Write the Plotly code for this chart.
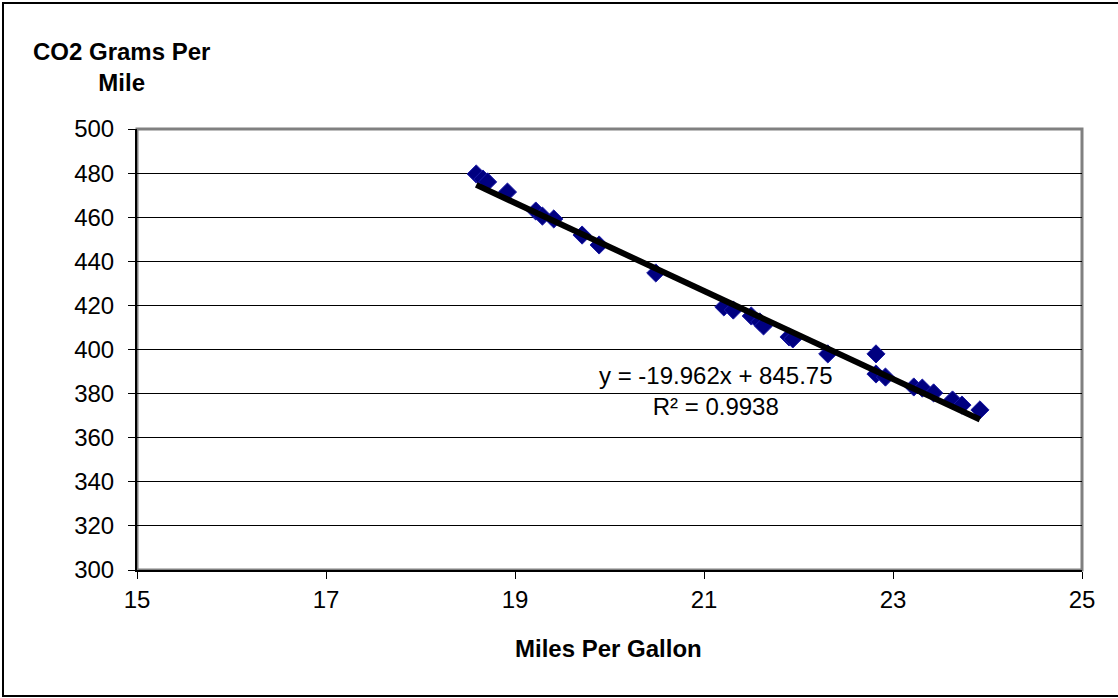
import plotly.graph_objects as go
import numpy as np

mpg = [18.59, 18.66, 18.71, 18.92, 19.22, 19.29, 19.41, 19.71, 19.89, 20.49,
       21.21, 21.31, 21.50, 21.59, 21.63, 21.90, 21.94, 22.31, 22.82, 22.82,
       22.92, 23.22, 23.31, 23.43, 23.63, 23.73, 23.92]
co2 = [479.6, 477.3, 476.0, 471.4, 462.8, 460.5, 459.2, 451.9, 447.4, 434.7,
       419.3, 417.9, 415.2, 412.5, 410.7, 405.7, 404.8, 398.0, 398.0, 388.9,
       387.5, 383.0, 382.5, 380.3, 377.1, 374.8, 372.6]

slope = -19.962
intercept = 845.75
r2 = 0.9938

x_ticks = [15, 17, 19, 21, 23, 25]
y_ticks = [300, 320, 340, 360, 380, 400, 420, 440, 460, 480, 500]

font_family = "Liberation Sans, Arial, sans-serif"
FS = 24

fig = go.Figure()

fig.add_trace(go.Scatter(
    x=mpg, y=co2, mode="markers",
    marker=dict(symbol="diamond", size=14, color="#000080",
                line=dict(color="#1a1aa6", width=1)),
    showlegend=False, cliponaxis=False,
))

x_line = np.array([min(mpg), max(mpg)])
fig.add_trace(go.Scatter(
    x=x_line, y=slope * x_line + intercept, mode="lines",
    line=dict(color="black", width=6),
    showlegend=False,
))

fig.update_layout(
    width=1118, height=698,
    margin=dict(l=137, r=36, t=129, b=128),
    paper_bgcolor="white", plot_bgcolor="white",
    font=dict(family=font_family, size=FS, color="black"),
    xaxis=dict(range=[15, 25], tickvals=x_ticks, showgrid=False, zeroline=False,
               showline=True, linecolor="black", linewidth=2,
               ticks="outside", ticklen=7, tickcolor="black", tickwidth=1,
               tickfont=dict(size=FS)),
    yaxis=dict(range=[300, 500], tickvals=y_ticks, showgrid=True,
               gridcolor="black", gridwidth=1, zeroline=False,
               showline=True, linecolor="black", linewidth=2,
               ticks="outside", ticklen=7, tickcolor="black", tickwidth=1,
               ticklabelstandoff=9,
               tickfont=dict(size=FS)),
    shapes=[
        dict(type="rect", xref="paper", yref="paper", x0=0, x1=1, y0=0, y1=1,
             line=dict(color="#808080", width=3), layer="below"),
        dict(type="rect", xref="paper", yref="paper",
             x0=-0.1418, x1=1.045, y0=-0.2857, y1=1.2857,
             line=dict(color="black", width=2)),
    ],
    annotations=[
        dict(xref="paper", yref="paper", x=(121 - 137) / 945, y=(570 - 67) / 441,
             text="<b>CO2 Grams Per<br>Mile</b>", showarrow=False,
             font=dict(size=FS), align="center", xanchor="center", yanchor="middle"),
        dict(xref="paper", yref="paper", x=(608 - 137) / 945, y=(570 - 648) / 441,
             text="<b>Miles Per Gallon</b>", showarrow=False,
             font=dict(size=FS), xanchor="center", yanchor="middle"),
        dict(xref="x", yref="y", x=21.13, y=381.2,
             text=f"y = {slope}x + {intercept}<br>R² = {r2}", showarrow=False,
             font=dict(size=FS), align="center", xanchor="center", yanchor="middle"),
    ],
)

fig.write_html("out.html", config={"displayModeBar": False},
               post_script="document.body.style.margin='0';document.body.style.padding='0';")
